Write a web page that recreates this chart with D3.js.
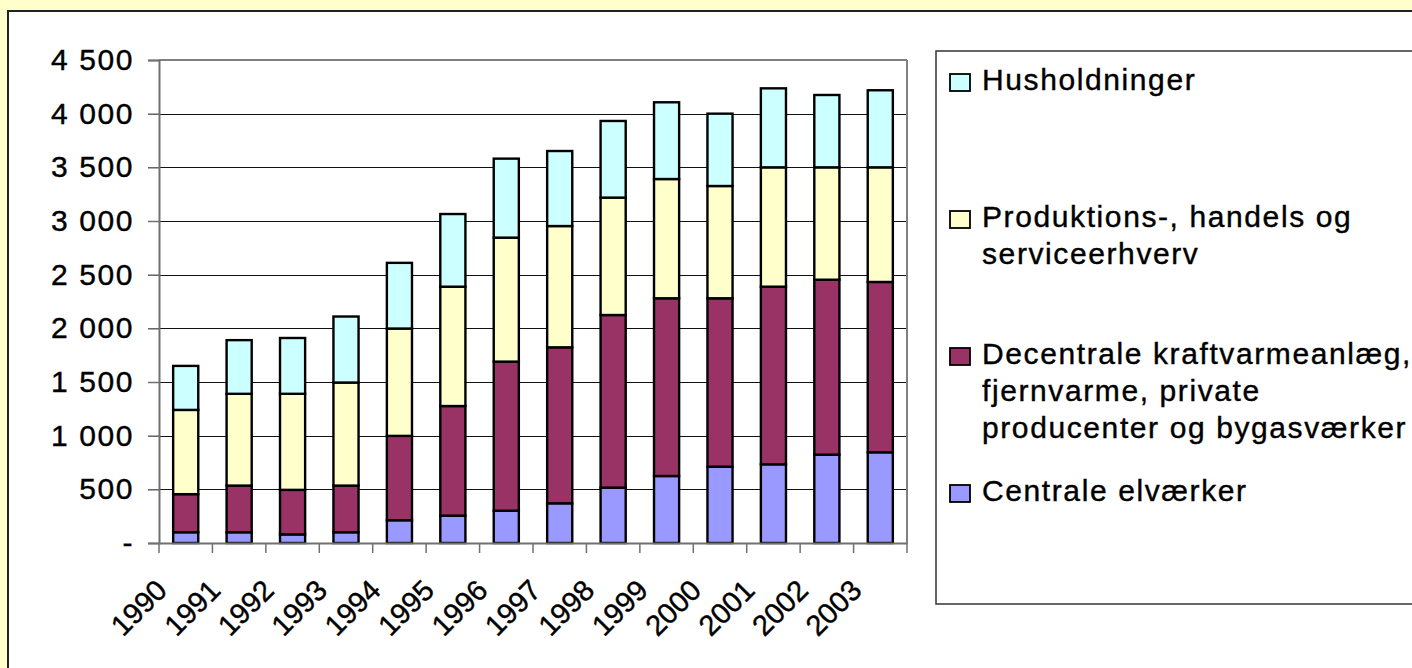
<!DOCTYPE html>
<html>
<head>
<meta charset="utf-8">
<script src="https://cdn.jsdelivr.net/npm/d3@7"></script>
<style>
  html, body { margin: 0; padding: 0; background: #FFFFCC; }
  svg { display: block; }
  text { font-family: "Liberation Sans", Arial, sans-serif; fill: #000; }
</style>
</head>
<body>
<svg id="chart" width="1412" height="668"></svg>
<script>
// ---- data ----
const years = ["1990","1991","1992","1993","1994","1995","1996","1997","1998","1999","2000","2001","2002","2003"];
const centrale     = [100, 100,  80, 100, 212, 255, 301, 370, 516, 624, 711, 733, 823, 845];
const decentrale   = [355, 435, 415, 435, 786, 1021, 1389, 1453, 1608, 1656, 1569, 1655, 1630, 1587];
const produktion   = [785, 855, 895, 960, 1000, 1112, 1155, 1130, 1094, 1111, 1046, 1112, 1047, 1068];
const husholdning  = [410, 500, 520, 615, 612, 677, 736, 699, 714, 715, 674, 736, 674, 718];
const seriesKeys   = ["centrale", "decentrale", "produktion", "husholdning"];
const seriesColors = ["#9999FF", "#993366", "#FFFFCC", "#CCFFFF"];
const legendLines  = {
  husholdning: ["Husholdninger"],
  produktion: ["Produktions-, handels og", "serviceerhverv"],
  decentrale: ["Decentrale kraftvarmeanlæg,", "fjernvarme, private", "producenter og bygasværker"],
  centrale: ["Centrale elværker"]
};
const yTicks = [0, 500, 1000, 1500, 2000, 2500, 3000, 3500, 4000, 4500];
const yTickLabels = ["-", "500", "1 000", "1 500", "2 000", "2 500", "3 000", "3 500", "4 000", "4 500"];

// ---- build table ----
const table = years.map((y, i) => ({
  year: y,
  centrale: centrale[i],
  decentrale: decentrale[i],
  produktion: produktion[i],
  husholdning: husholdning[i]
}));

const svg = d3.select("#chart");

// chart area (white with dark border on top/left)
svg.append("rect").attr("x", 8).attr("y", 11).attr("width", 1420).attr("height", 680)
  .attr("fill", "#fff").attr("stroke", "#222").attr("stroke-width", 2);

const plot = { left: 159, right: 907, top: 60, bottom: 543 };

const x = d3.scaleBand().domain(years).range([plot.left, plot.right])
  .paddingInner(0.53).paddingOuter(0.265);
const y = d3.scaleLinear().domain([0, 4500]).range([plot.bottom, plot.top]);

// gridlines
svg.append("g").selectAll("line").data(yTicks.filter(d => d > 0)).join("line")
  .attr("x1", plot.left - 11).attr("x2", plot.right)
  .attr("y1", d => Math.round(y(d)) + 0.5).attr("y2", d => Math.round(y(d)) + 0.5)
  .attr("stroke", "#111").attr("stroke-width", 1.2);

// plot border (top + right) gray
svg.append("line").attr("x1", plot.left).attr("x2", plot.right).attr("y1", plot.top).attr("y2", plot.top)
  .attr("stroke", "#808080").attr("stroke-width", 2);
svg.append("line").attr("x1", plot.right).attr("x2", plot.right).attr("y1", plot.top).attr("y2", plot.bottom)
  .attr("stroke", "#808080").attr("stroke-width", 2);

// stacked bars
const stack = d3.stack().keys(seriesKeys)(table);
const colorOf = d3.scaleOrdinal().domain(seriesKeys).range(seriesColors);
svg.append("g").selectAll("g").data(stack).join("g")
  .attr("fill", d => colorOf(d.key))
  .selectAll("rect").data(d => d).join("rect")
  .attr("x", d => x(d.data.year))
  .attr("width", x.bandwidth())
  .attr("y", d => y(d[1]))
  .attr("height", d => y(d[0]) - y(d[1]))
  .attr("stroke", "#000").attr("stroke-width", 2.4);

// y axis
const yAxis = d3.axisLeft(y).tickValues(yTicks)
  .tickFormat((d, i) => yTickLabels[i]).tickSize(11).tickPadding(14);
const gy = svg.append("g").attr("transform", `translate(${plot.left},0)`).call(yAxis);
gy.select(".domain").attr("stroke", "#707070").attr("stroke-width", 2);
gy.selectAll(".tick line").attr("stroke", "#707070").attr("stroke-width", 1.5);
gy.selectAll(".tick text").attr("font-size", 30).attr("letter-spacing", "1.6px")
  .attr("font-family", "Liberation Sans, Arial, sans-serif").attr("fill", "#000")
  .attr("stroke", "#000").attr("stroke-width", 0.4).attr("dy", "0.32em");

// x axis
const xAxis = d3.axisBottom(x).tickSize(0).tickFormat("");
const gx = svg.append("g").attr("transform", `translate(0,${plot.bottom})`).call(xAxis);
gx.select(".domain").attr("stroke", "#707070").attr("stroke-width", 2);
// category boundary ticks
const boundaries = d3.range(years.length + 1).map(i => plot.left + i * x.step());
svg.append("g").selectAll("line").data(boundaries).join("line")
  .attr("x1", d => d).attr("x2", d => d).attr("y1", plot.bottom).attr("y2", plot.bottom + 10)
  .attr("stroke", "#707070").attr("stroke-width", 1.5);
// rotated year labels
svg.append("g").selectAll("text").data(years).join("text")
  .attr("transform", d => `translate(${x(d) + x.bandwidth() / 2 - 17},${592}) rotate(-45)`)
  .attr("text-anchor", "end")
  .attr("font-size", 29)
  .attr("stroke", "#000").attr("stroke-width", 0.4)
  .text(d => d);

// legend
svg.append("rect").attr("x", 936).attr("y", 51).attr("width", 520).attr("height", 553)
  .attr("fill", "#fff").attr("stroke", "#333").attr("stroke-width", 1.5);
const legendOrder = seriesKeys.slice().reverse();
const lg = svg.append("g").selectAll("g").data(legendOrder).join("g")
  .attr("transform", (d, i) => `translate(0,${90 + i * 137})`);
lg.append("rect").attr("x", 950).attr("y", -16).attr("width", 20).attr("height", 17)
  .attr("fill", d => colorOf(d)).attr("stroke", "#000").attr("stroke-width", 1.8);
lg.append("text").attr("x", 982).attr("y", 0)
  .attr("font-size", 30).attr("letter-spacing", "1.6px")
  .attr("stroke", "#000").attr("stroke-width", 0.4)
  .selectAll("tspan").data(d => legendLines[d]).join("tspan")
  .attr("x", 982).attr("dy", (d, i) => i === 0 ? 0 : 37)
  .text(d => d);
</script>
</body>
</html>
